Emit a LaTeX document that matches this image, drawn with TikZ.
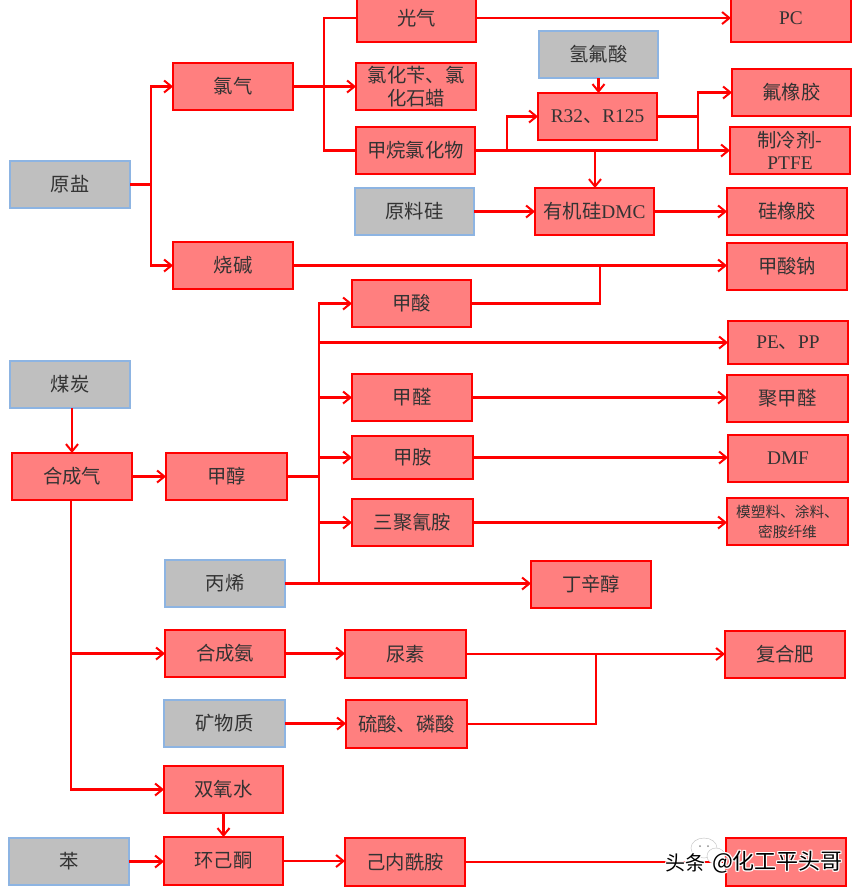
\documentclass[tikz,border=0pt]{standalone}
\usepackage{fontspec}
\setmainfont{Liberation Serif}
\newfontfamily\cjk{Noto Sans CJK SC}
\usetikzlibrary{arrows.meta,calc}
\definecolor{boxred}{HTML}{FF7F7F}
\definecolor{boxgray}{HTML}{BFBFBF}
\definecolor{edgeblue}{HTML}{8DB4E2}
\definecolor{txt}{HTML}{333333}
\newcommand{\bx}[7][redbox]{% style, name, x0,y0,x1,y1, text
  \node[#1,minimum width={(#5-#3)*0.75pt},minimum height={(#6-#4)*0.75pt}] (#2) at ({(#3+#5)/2},{(#4+#6)/2}) {#7};}
\tikzset{
  x=0.75pt,y=-0.75pt,
  basebox/.style={rectangle,inner sep=0pt,outer sep=0pt,line width=1.6pt,align=center,text=txt,
    font=\cjk\fontsize{14.5}{17}\selectfont},
  redbox/.style={basebox,draw=red,fill=boxred},
  graybox/.style={basebox,draw=edgeblue,fill=boxgray},
  small/.style={font=\cjk\fontsize{11}{15}\selectfont},
  wire/.style={draw=red,line width=1.7pt},
  arrow/.style={wire,-{Straight Barb[length=5.5pt,width=9pt,line width=1.5pt]}},
  wm/.style={inner sep=0pt,outer sep=0pt,anchor=west},
}
\newcommand{\wmA}{\cjk\fontsize{15}{18}\selectfont 头条}
\newcommand{\wmB}{\cjk\fontsize{16.5}{18}\selectfont @化工平头哥}
\begin{document}
\begin{tikzpicture}
\useasboundingbox (0,0) rectangle (865,894);
\fill[white] (0,0) rectangle (865,894);
% column 1
\bx[graybox]{yuanyan}{10}{161}{130}{208}{原盐}
\bx[graybox]{meitan}{10}{361}{130}{408}{煤炭}
\bx{hechengqi}{12}{453}{132}{500}{合成气}
\bx[graybox]{ben}{9}{838}{129}{885}{苯}
% column 2
\bx{luqi}{173}{63}{293}{110}{氯气}
\bx{shaojian}{173}{242}{293}{289}{烧碱}
\bx{jiachun}{166}{453}{287}{500}{甲醇}
\bx[graybox]{bingxi}{165}{560}{285}{607}{丙烯}
\bx{hechengan}{165}{630}{285}{677}{合成氨}
\bx[graybox]{kuangwu}{164}{700}{285}{747}{矿物质}
\bx{shuangyang}{164}{766}{283}{813}{双氧水}
\bx{huanjitong}{164}{837}{283}{885}{环己酮}
% column 3
\bx{guangqi}{357}{-6}{476}{42}{光气}
\bx{lvhuabian}{356}{63}{476}{110}{氯化苄、氯\\化石蜡}
\bx{jiawan}{356}{127}{475}{174}{甲烷氯化物}
\bx[graybox]{yuanliaogui}{355}{188}{474}{235}{原料硅}
\bx{jiasuan}{352}{280}{471}{327}{甲酸}
\bx{jiaquan}{352}{374}{472}{421}{甲醛}
\bx{jiaan}{352}{436}{473}{479}{甲胺}
\bx{sanju}{352}{499}{473}{546}{三聚氰胺}
\bx{niaosu}{345}{630}{466}{678}{尿素}
\bx{liusuan}{346}{700}{467}{748}{硫酸、磷酸}
\bx{jineixian}{345}{838}{465}{886}{己内酰胺}
% column 4
\bx[graybox]{qingfusuan}{539}{31}{658}{78}{氢氟酸}
\bx{rfreon}{538}{93}{657}{140}{{\rmfamily R32}、{\rmfamily R125}}
\bx{youjigui}{535}{188}{654}{235}{有机硅{\rmfamily DMC}}
\bx{dingxinchun}{531}{561}{651}{608}{丁辛醇}
% column 5
\bx{pc}{731}{-6}{851}{42}{{\rmfamily PC}}
\bx{fuxiangjiao}{732}{69}{851}{116}{氟橡胶}
\bx{zhilengji}{730}{127}{850}{174}{制冷剂-\\{\rmfamily PTFE}}
\bx{guixiangjiao}{727}{188}{847}{235}{硅橡胶}
\bx{jiasuanna}{727}{243}{847}{290}{甲酸钠}
\bx{pepp}{728}{321}{848}{364}{{\rmfamily PE}、{\rmfamily PP}}
\bx{jujiaquan}{727}{375}{848}{422}{聚甲醛}
\bx{dmf}{728}{435}{848}{482}{{\rmfamily DMF}}
\bx[redbox,small]{musu}{727}{498}{848}{545}{模塑料、涂料、\\密胺纤维}
\bx{fuhefei}{725}{631}{845}{678}{复合肥}
\bx{lastbox}{726}{838}{846}{886}{}
% junctions
\coordinate (jA) at (151,184.5);
\coordinate (jB) at (324,86.5);
\coordinate (jC) at (507,150.5);
\coordinate (jD) at (595,150.5);
\coordinate (jE) at (698,116.5);
\coordinate (jF) at (600,265.5);
\coordinate (jG) at (319,476.5);
\coordinate (jH) at (71,654);
\coordinate (jI) at (596,654);
% chlor-alkali
\draw[wire] (yuanyan.east) -- (jA);
\draw[arrow] (jA) |- (luqi.west);
\draw[arrow] (jA) |- (shaojian.west);
\draw[arrow] (luqi.east) -- (luqi.east -| lvhuabian.west);
\draw[wire] (jB) |- (guangqi.west);
\draw[wire] (jB) |- (jiawan.west);
\draw[arrow] (guangqi.east) -- (guangqi.east -| pc.west);
\draw[arrow] (jiawan.east) -- (jiawan.east -| zhilengji.west);
\draw[arrow] (jC) |- (rfreon.west);
\draw[arrow] (jD) -- (jD |- youjigui.north);
\draw[arrow] (qingfusuan.south) -- (qingfusuan.south |- rfreon.north);
\draw[wire] (rfreon.east) -- (jE);
\draw[arrow] (jE) |- (fuxiangjiao.west);
\draw[wire] (jE) -- (jE |- jiawan.east);
\draw[arrow] (yuanliaogui.east) -- (youjigui.west);
\draw[arrow] (youjigui.east) -- (guixiangjiao.west);
\draw[arrow] (shaojian.east) -- (shaojian.east -| jiasuanna.west);
\draw[wire] (jiasuan.east) -| (jF);
% methanol
\draw[arrow] (hechengqi.north |- meitan.south) -- (hechengqi.north);
\draw[arrow] (hechengqi.east) -- (jiachun.west);
\draw[wire] (jiachun.east) -- (jG);
\draw[arrow] (jG) |- (jiasuan.west);
\draw[arrow] (jG |- pepp.west) -- (pepp.west);
\draw[arrow] (jG |- jiaquan.west) -- (jiaquan.west);
\draw[arrow] (jG |- jiaan.west) -- (jiaan.west);
\draw[arrow] (jG |- sanju.west) -- (sanju.west);
\draw[wire] (jG) -- (jG |- bingxi.east);
\draw[arrow] (bingxi.east) -- (bingxi.east -| dingxinchun.west);
\draw[arrow] (jiaquan.east) -- (jiaquan.east -| jujiaquan.west);
\draw[arrow] (jiaan.east) -- (jiaan.east -| dmf.west);
\draw[arrow] (sanju.east) -- (sanju.east -| musu.west);
% syngas lower
\draw[arrow] (hechengqi.south -| jH) |- (shuangyang.west);
\draw[arrow] (jH |- hechengan.west) -- (hechengan.west);
\draw[arrow] (hechengan.east) -- (hechengan.east -| niaosu.west);
\draw[arrow] (niaosu.east) -- (niaosu.east -| fuhefei.west);
\draw[arrow] (kuangwu.east) -- (kuangwu.east -| liusuan.west);
\draw[wire] (liusuan.east) -| (jI);
\draw[arrow] (shuangyang.south) -- (huanjitong.north);
\draw[arrow] (ben.east) -- (ben.east -| huanjitong.west);
\draw[arrow] (huanjitong.east) -- (huanjitong.east -| jineixian.west);
\draw[wire] (jineixian.east) -- (jineixian.east -| lastbox.west);
% watermark
\fill[white,draw=black!25,line width=0.3pt] (704,848) ellipse [x radius=13,y radius=10];
\fill[white,draw=black!25,line width=0.3pt] (716,856) ellipse [x radius=9,y radius=8];
\fill[black!45] (700,846) circle [radius=1] (708,846) circle [radius=1];
\foreach \dx/\dy [count=\i] in {-1/0,1/0,0/-1,0/1,-1/-1,1/1,-1/1,1/-1}{
  \node[wm,text=white] (wmhaloA\i) at (665+\dx,863+\dy) {\wmA};
  \node[wm,text=white] (wmhaloB\i) at (712+\dx,862+\dy) {\wmB};
}
\node[wm,text=black] (wmtextA) at (665,863) {\wmA};
\node[wm,text=black] (wmtextB) at (712,862) {\wmB};
\end{tikzpicture}
\end{document}
